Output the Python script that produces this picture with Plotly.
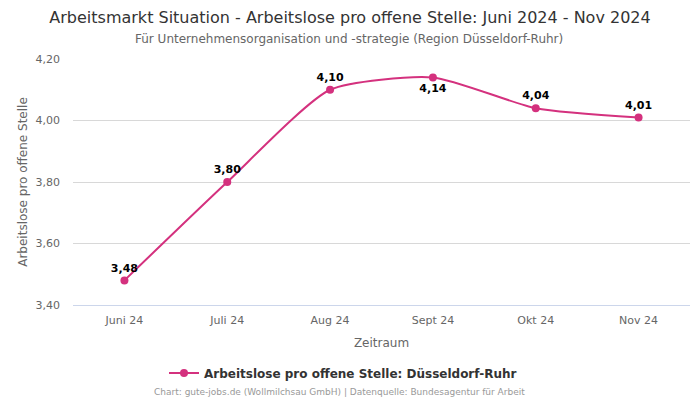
import plotly.graph_objects as go

categories = ["Juni 24", "Juli 24", "Aug 24", "Sept 24", "Okt 24", "Nov 24"]
values = [3.48, 3.80, 4.10, 4.14, 4.04, 4.01]
labels = ["3,48", "3,80", "4,10", "4,14", "4,04", "4,01"]
label_pos = ["top center", "top center", "top center", "bottom center", "top center", "top center"]
y_ticks = [3.40, 3.60, 3.80, 4.00, 4.20]
y_tick_text = ["3,40", "3,60", "3,80", "4,00", "4,20"]

color = "#d4317e"
font = "DejaVu Sans"

fig = go.Figure()
fig.add_trace(go.Scatter(
    x=categories, y=values,
    mode="lines+markers+text",
    line=dict(color=color, width=2, shape="spline", smoothing=0.6),
    marker=dict(color=color, size=8),
    text=[f"<b>{t}</b>" for t in labels],
    textposition=label_pos,
    textfont=dict(family=font, size=11, color="#000"),
    name="Arbeitslose pro offene Stelle: Düsseldorf-Ruhr",
    cliponaxis=False,
))

fig.update_layout(
    width=700, height=400,
    margin=dict(l=73, r=10, t=59, b=95, autoexpand=False),
    paper_bgcolor="white", plot_bgcolor="white",
    font=dict(family=font, color="#666"),
    title=dict(
        text="Arbeitsmarkt Situation - Arbeitslose pro offene Stelle: Juni 2024 - Nov 2024",
        xref="container", yref="container",
        x=0.5, xanchor="center", y=1 - 17 / 400, yanchor="middle",
        font=dict(family=font, size=16, color="#333"),
    ),
    showlegend=True,
    legend=dict(
        orientation="h", xref="container", yref="container",
        x=(350 - 7) / 700, xanchor="center", y=1 - 373 / 400, yanchor="middle",
        itemwidth=30,
        font=dict(family=font, size=12, color="#333", weight="bold"),
    ),
    xaxis=dict(
        type="category", range=[-0.5, 5.5], automargin=False,
        showgrid=False, showline=True, linecolor="#ccd6eb", linewidth=1,
        ticks="", tickfont=dict(size=11, color="#666"), ticklabelstandoff=5,
        title=dict(text="Zeitraum", font=dict(size=12, color="#666"), standoff=12),
    ),
    yaxis=dict(
        range=[3.40, 4.20], tickvals=y_ticks, ticktext=y_tick_text, automargin=False,
        showgrid=True, gridcolor="#d8d8d8", zeroline=False, showline=False,
        tickfont=dict(size=11, color="#666"), ticklabelstandoff=12,
        title=dict(text="Arbeitslose pro offene Stelle", font=dict(size=12, color="#666"), standoff=5),
    ),
    annotations=[
        dict(text="Für Unternehmensorganisation und -strategie (Region Düsseldorf-Ruhr)",
             xref="paper", yref="paper", x=(349 - 73) / 617, y=1, yshift=20,
             xanchor="center", yanchor="middle",
             showarrow=False, font=dict(family=font, size=12, color="#666")),
        dict(text="Chart: gute-jobs.de (Wollmilchsau GmbH) | Datenquelle: Bundesagentur für Arbeit",
             xref="paper", yref="paper", x=(339 - 73) / 617, y=0, yshift=-87,
             xanchor="center", yanchor="middle",
             showarrow=False, font=dict(family=font, size=9, color="#999")),
    ],
)

fig.write_html("out.html", config={"displayModeBar": False},
               post_script="document.body.style.margin='0';document.body.style.overflow='hidden';")
